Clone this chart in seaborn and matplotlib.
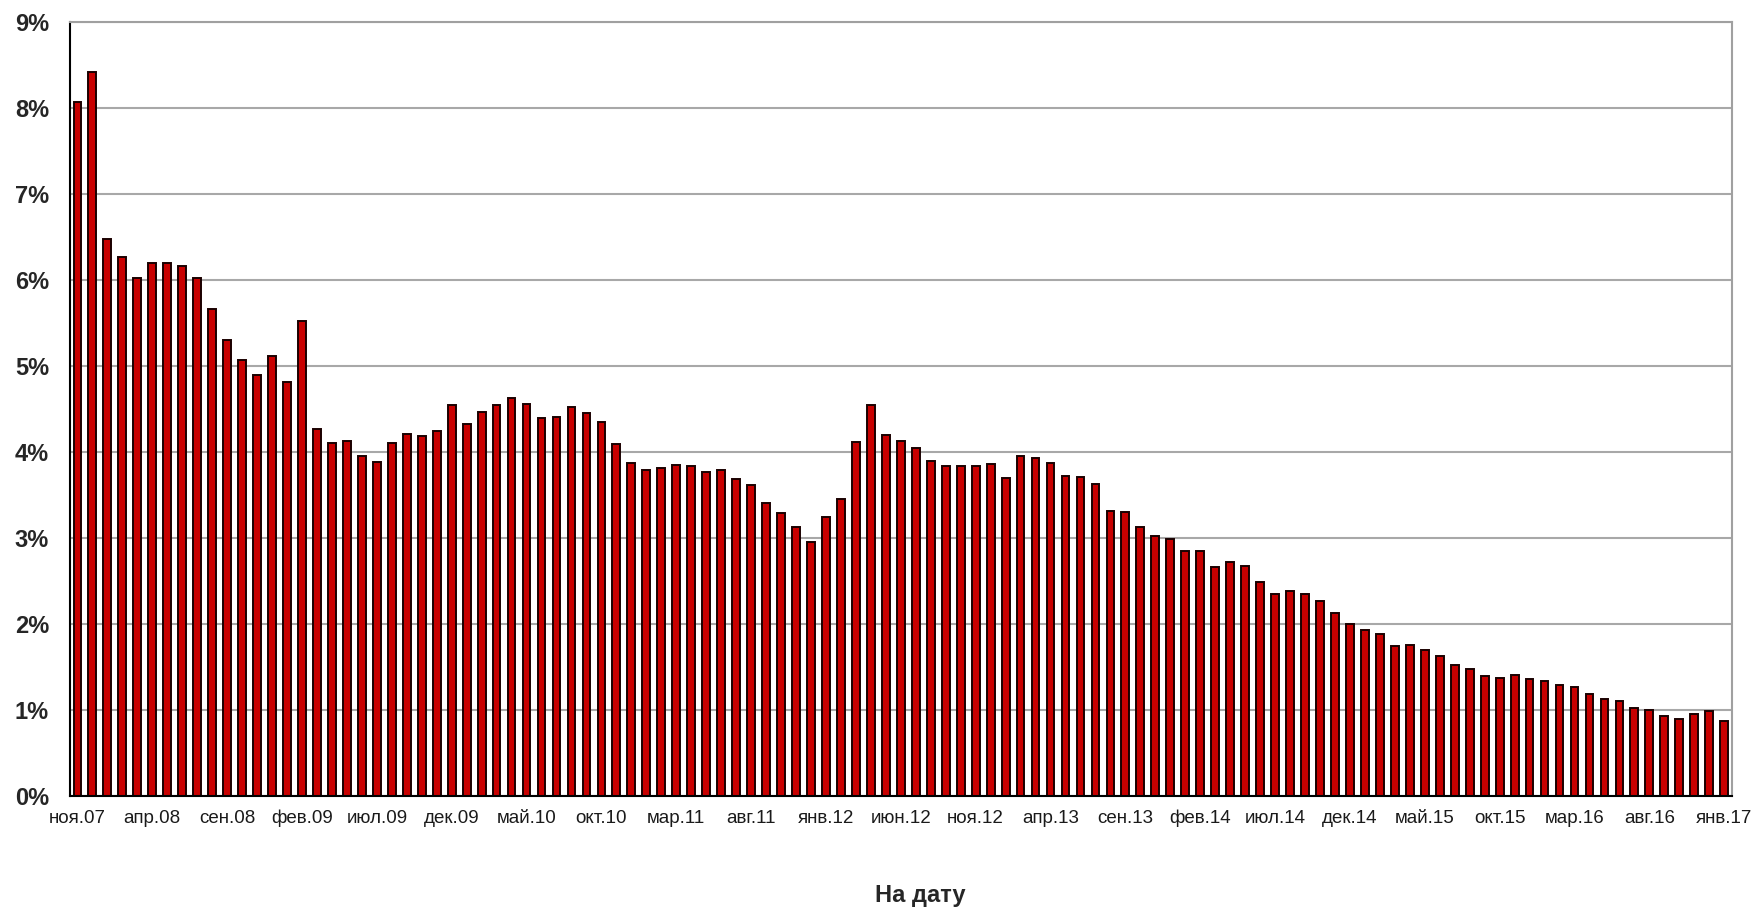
import seaborn as sns
import matplotlib.pyplot as plt
import numpy as np
from matplotlib.ticker import FuncFormatter, FixedLocator

month_names = ["янв", "фев", "мар", "апр", "май", "июн",
               "июл", "авг", "сен", "окт", "ноя", "дек"]

# monthly dates from ноя.07 to янв.17
dates = []
for year in range(2007, 2018):
    for m, name in enumerate(month_names):
        if (year == 2007 and m < 10) or (year == 2017 and m > 0):
            continue
        dates.append("%s.%02d" % (name, year % 100))

values = [
    8.07, 8.42, 6.47, 6.26, 6.02, 6.19, 6.19, 6.16, 6.02, 5.66,
    5.30, 5.07, 4.89, 5.11, 4.81, 5.52, 4.27, 4.10, 4.13, 3.95,
    3.88, 4.10, 4.21, 4.18, 4.24, 4.54, 4.32, 4.46, 4.54, 4.62,
    4.55, 4.39, 4.40, 4.52, 4.45, 4.35, 4.09, 3.87, 3.79, 3.81,
    3.85, 3.83, 3.76, 3.79, 3.68, 3.61, 3.40, 3.29, 3.12, 2.95,
    3.24, 3.45, 4.11, 4.54, 4.19, 4.13, 4.04, 3.89, 3.83, 3.84,
    3.84, 3.86, 3.69, 3.95, 3.93, 3.87, 3.72, 3.71, 3.62, 3.31,
    3.30, 3.12, 3.02, 2.98, 2.85, 2.85, 2.66, 2.72, 2.67, 2.49,
    2.35, 2.38, 2.35, 2.26, 2.12, 2.00, 1.93, 1.88, 1.74, 1.75,
    1.69, 1.63, 1.52, 1.47, 1.39, 1.37, 1.40, 1.36, 1.33, 1.29,
    1.26, 1.18, 1.13, 1.10, 1.02, 1.00, 0.93, 0.89, 0.95, 0.98,
    0.87,
]

sns.set_style("white")
plt.rcParams['font.family'] = ['Liberation Sans', 'DejaVu Sans']

fig = plt.figure(figsize=(17.57, 9.11), dpi=100)
ax = fig.add_axes([0.0398, 0.1266, 0.9458, 0.8494])

sns.barplot(x=dates, y=values, color="#C80000", width=0.52,
            edgecolor="#1a0000", linewidth=1.4, saturation=1, ax=ax)

n = len(dates)
ax.set_xlim(-0.5, n - 0.5)
ax.set_ylim(0, 9)
ax.set_yticks(np.arange(0, 10, 1))
ax.yaxis.set_major_formatter(FuncFormatter(lambda v, p: "%d%%" % v))
for t in ax.get_yticklabels():
    t.set_fontweight("bold")
ax.tick_params(axis="y", labelsize=17, length=5, width=1.2, color="#555555", pad=10)
ax.yaxis.grid(True, color="#A8A8A8", linewidth=1.5)
ax.set_axisbelow(True)

ax.set_xticks(range(0, n, 5))
ax.set_xticklabels(dates[::5])
ax.tick_params(axis="x", which="major", labelsize=13.5, length=0, pad=10, labelcolor="#1a1a1a")
ax.xaxis.set_minor_locator(FixedLocator([i - 0.5 for i in range(0, n, 5)]))
ax.tick_params(axis="x", which="minor", length=5, width=1, color="#777777")

for side in ["left", "bottom"]:
    ax.spines[side].set_color("black")
    ax.spines[side].set_linewidth(1.5)
for side in ["right", "top"]:
    ax.spines[side].set_visible(True)
    ax.spines[side].set_color("#A0A0A0")
    ax.spines[side].set_linewidth(1.5)

fig.text(0.524, 0.0165, "На дату", ha="center", va="center",
         fontsize=17, fontweight="bold")

fig.savefig("out.png", dpi=100)
